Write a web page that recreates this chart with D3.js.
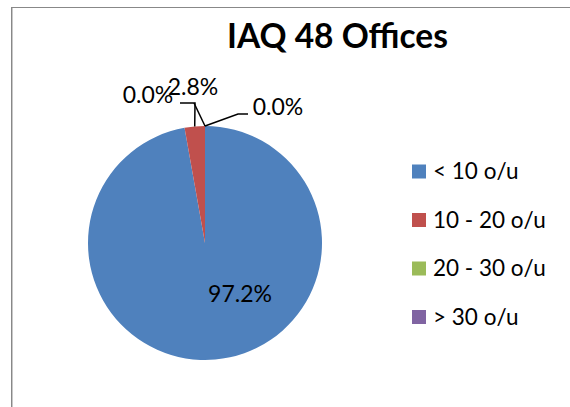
<!DOCTYPE html>
<html>
<head>
<meta charset="utf-8">
<script src="https://cdn.jsdelivr.net/npm/d3@7"></script>
<style>
html,body{margin:0;padding:0;background:#fff;}
svg{display:block;}
text{font-family:Lato,"Open Sans",sans-serif;fill:#000;}
</style>
</head>
<body>
<svg id="chart" width="570" height="407"></svg>
<script>
const title = "IAQ 48 Offices";
const categories = ["< 10 o/u", "10 - 20 o/u", "20 - 30 o/u", "> 30 o/u"];
const values = [97.2, 2.8, 0.0, 0.0];
const colors = ["#4F81BD", "#C0504D", "#9BBB59", "#8064A2"];

const W = 570, H = 407;
const cx = 205, cy = 243, R = 117;

const svg = d3.select("#chart");

// chart area border
svg.append("rect").attr("x", 11.5).attr("y", 7.5).attr("width", 620).attr("height", 460)
  .attr("fill", "#fff").attr("stroke", "#888").attr("stroke-width", 1);
svg.append("line").attr("x1", 12.5).attr("x2", 12.5).attr("y1", 8).attr("y2", H)
  .attr("stroke", "#c8c8c8").attr("stroke-width", 1);

// title
svg.append("text").attr("x", 337.5).attr("y", 48).attr("text-anchor", "middle")
  .style("font-weight", "bold").style("font-size", "33.5px").text(title);

const pie = d3.pie().sort(null).value(d => d);
const arcs = pie(values);
const arc = d3.arc().innerRadius(0).outerRadius(R);

const g = svg.append("g").attr("transform", `translate(${cx},${cy})`);
g.selectAll("path").data(arcs).join("path")
  .attr("d", arc).attr("fill", (d, i) => colors[i])
  .attr("stroke", "none");

function edgePoint(d) {
  const a = (d.startAngle + d.endAngle) / 2;
  return [R * Math.sin(a), -R * Math.cos(a)];
}

const fmt = v => v.toFixed(1) + "%";

// label layout offsets (relative to pie centre)
const labelPos = [
  {x: 35, y: 59},     // 97.2%
  {x: -12, y: -148},  // 2.8%
  {x: -57, y: -140},  // 0.0% left
  {x: 73, y: -128}    // 0.0% right
];
const leaderElbows = [
  null,
  [[-25, -140], [-10, -140]],
  [[-11, -140]],
  [[43, -129], [33, -129]]
];

const line = d3.line();
arcs.forEach((d, i) => {
  if (leaderElbows[i]) {
    const pts = leaderElbows[i].concat([edgePoint(d)]);
    g.append("path").attr("d", line(pts)).attr("fill", "none")
      .attr("stroke", "#000").attr("stroke-width", 1.5);
  }
});
arcs.forEach((d, i) => {
  g.append("text").attr("x", labelPos[i].x).attr("y", labelPos[i].y)
    .attr("text-anchor", "middle").style("font-size", "23px").text(fmt(values[i]));
});

// legend
const legend = svg.append("g");
categories.forEach((c, i) => {
  const y = 171.5 + i * 48.5;
  legend.append("rect").attr("x", 412).attr("y", y - 7).attr("width", 14).attr("height", 14)
    .attr("fill", colors[i]);
  legend.append("text").attr("x", 433).attr("y", y + 7.5).style("font-size", "22.5px").text(c);
});
</script>
</body>
</html>
